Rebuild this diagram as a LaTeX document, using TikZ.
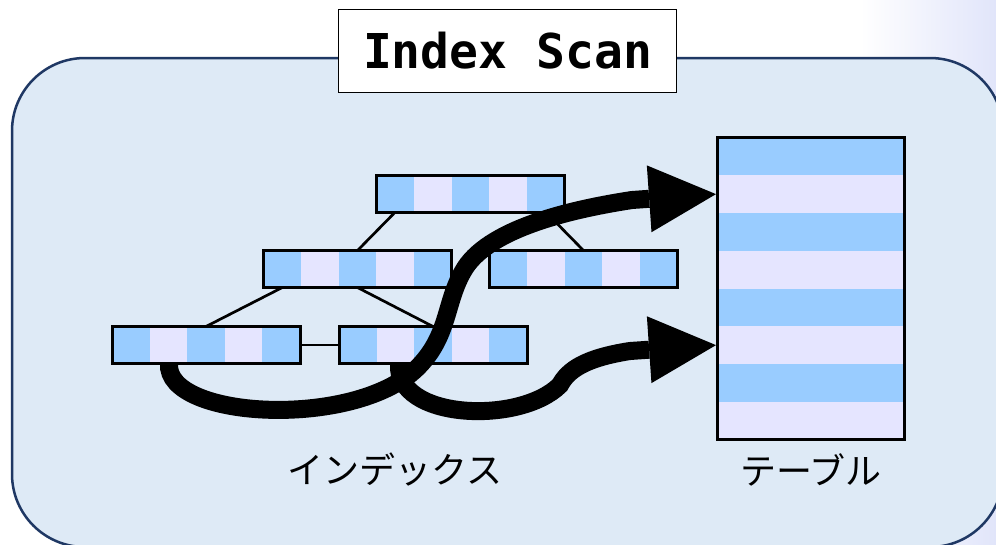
\documentclass[tikz,border=0pt]{standalone}
\usepackage{fontspec}
\setmonofont{DejaVu Sans Mono}
\newfontfamily\jpfont{Noto Sans CJK JP}
\usetikzlibrary{arrows.meta,calc}
\definecolor{cellB}{HTML}{99CCFF}
\definecolor{cellL}{HTML}{E5E5FF}
\definecolor{panel}{HTML}{DEEAF6}
\definecolor{navy}{HTML}{1F3864}
\definecolor{lav}{HTML}{E1E5FA}
\begin{document}
\begin{tikzpicture}[x=1pt,y=-1pt,
  idx/.style={draw=black,line width=3pt,fill=cellL,minimum width=188pt,minimum height=37pt,
    inner sep=0pt,outer sep=0pt,
    path picture={\foreach \k in {0,2,4}{\fill[cellB] ($(path picture bounding box.north west)+(\k*37.6,0)$) rectangle +(37.6,37);}}},
  tablebox/.style={draw=black,line width=3pt,fill=cellL,minimum width=187pt,minimum height=302pt,
    inner sep=0pt,outer sep=0pt,
    path picture={\foreach \k in {0,2,4,6}{\fill[cellB] ($(path picture bounding box.north west)+(0,\k*37.75)$) rectangle +(187,37.75);}}},
  treeline/.style={line width=2.7pt,draw=black},
  bigarrow/.style={line width=18pt,draw=black,-{Triangle[length=67pt,width=67pt,line width=0pt]}},
  caption/.style={font=\jpfont\fontsize{36pt}{40pt}\selectfont,text=black,inner sep=0pt}]
\useasboundingbox (0,0) rectangle (996,544);
\clip (0,0) rectangle (996,544);
% background
\fill[white] (0,0) rectangle (996,544);
\shade[left color=white,right color=lav] (860,0) rectangle (996,544);
% panel
\draw[fill=panel,draw=navy,line width=2.5pt,rounded corners=73pt] (12,58) rectangle (1003,547);
% title
\node[draw=black,line width=1.8pt,fill=white,minimum width=338pt,minimum height=83pt,inner sep=0pt,
  font=\ttfamily\bfseries\fontsize{48pt}{52pt}\selectfont] (title) at (507.5,51) {Index Scan};
% index tree nodes
\node[idx] (top) at (470.5,193.5) {};
\node[idx] (ml) at (357.5,269) {};
\node[idx] (mr) at (583.5,269) {};
\node[idx] (bl) at (206,345) {};
\node[idx] (br) at (433,345) {};
\draw[treeline] ($(top.south west)!0.1!(top.south east)$) -- (ml.north);
\draw[treeline] ($(top.south west)!0.9!(top.south east)$) -- (mr.north);
\draw[treeline] ($(ml.south west)!0.1!(ml.south east)$) -- (bl.north);
\draw[treeline] (ml.south) -- (br.north);
\draw[treeline] (bl.east) -- (br.west);
% table
\node[tablebox] (tbl) at (811,288.5) {};
% arrows
\coordinate (a1s) at ($(bl.south west)+(57,0)$);
\coordinate (a2s) at ($(br.south west)+(60,0)$);
\coordinate (t1) at ($(tbl.north west)!0.1875!(tbl.south west)+(-1.5,0)$);
\coordinate (t2) at ($(tbl.north west)!0.6875!(tbl.south west)+(-1.5,0)$);
\draw[bigarrow] (a1s) .. controls (165,420) and (360,430) .. (420,365)
  .. controls (450,333) and (445,300) .. (465,268)
  .. controls (492,226) and (580,208) .. (632,200) -- (t1);
\draw[bigarrow] (a2s) .. controls (395,420) and (520,425) .. (560,385)
  .. controls (568,370) and (585,358) .. (630,351) -- (t2);
% captions
\node[caption] (lidx) at (395,470) {インデックス};
\node[caption] (ltbl) at (811,470) {テーブル};
\end{tikzpicture}
\end{document}
